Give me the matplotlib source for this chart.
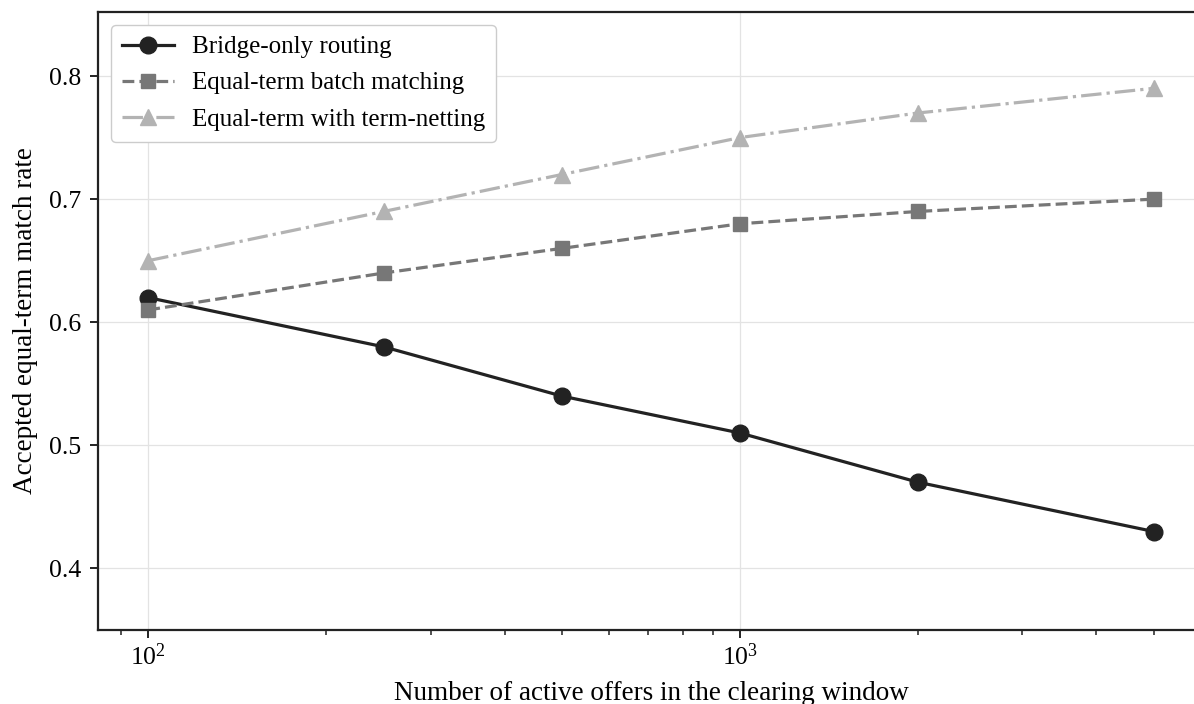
import matplotlib
matplotlib.use("Agg")
import matplotlib.pyplot as plt

offers = [100, 250, 500, 1000, 2000, 5000]
bridge_only = [0.62, 0.58, 0.54, 0.51, 0.47, 0.43]
batch_matching = [0.61, 0.64, 0.66, 0.68, 0.69, 0.70]
term_netting = [0.65, 0.69, 0.72, 0.75, 0.77, 0.79]
labels = ["Bridge-only routing", "Equal-term batch matching", "Equal-term with term-netting"]

plt.rcParams['font.family'] = ['Liberation Serif', 'DejaVu Serif']
plt.rcParams['mathtext.fontset'] = 'stix'

fig = plt.figure(figsize=(11.94, 7.04), dpi=100)
ax = fig.add_axes([98/1194, 1-630/704, (1204-98)/1194, (630-12)/704])

ax.plot(offers, bridge_only, color='#222222', lw=2.3, ls='-', marker='o', ms=12, label=labels[0])
ax.plot(offers, batch_matching, color='#777777', lw=2.3, ls='--', marker='s', ms=10, label=labels[1])
ax.plot(offers, term_netting, color='#b3b3b3', lw=2.3, ls='-.', marker='^', ms=11, label=labels[2])

ax.set_xscale('log')
ax.set_ylim(0.35, 0.852)
ax.set_yticks([0.4, 0.5, 0.6, 0.7, 0.8])
ax.grid(True, color='#e3e3e3', lw=0.9)
ax.set_axisbelow(True)
for s in ax.spines.values():
    s.set_linewidth(1.6)
    s.set_color('#222222')
ax.tick_params(axis='both', which='major', direction='out', length=6, width=1.4, labelsize=18.5, color='#222222')
ax.tick_params(axis='y', which='major', pad=6)
ax.tick_params(axis='x', which='minor', direction='out', length=3.5, width=1.1, color='#222222')
ax.set_xlabel("Number of active offers in the clearing window", fontsize=19.5, labelpad=8)
ax.set_ylabel("Accepted equal-term match rate", fontsize=19.5, labelpad=8)
leg = ax.legend(loc='upper left', fontsize=18, frameon=True, framealpha=1, edgecolor='#cccccc',
                handlelength=2.1, handletextpad=0.7, borderpad=0.45, labelspacing=0.55,
                bbox_to_anchor=(0.0, 1.0), borderaxespad=0.5)
leg.get_frame().set_linewidth(1.0)

fig.savefig("out.png", dpi=100)
